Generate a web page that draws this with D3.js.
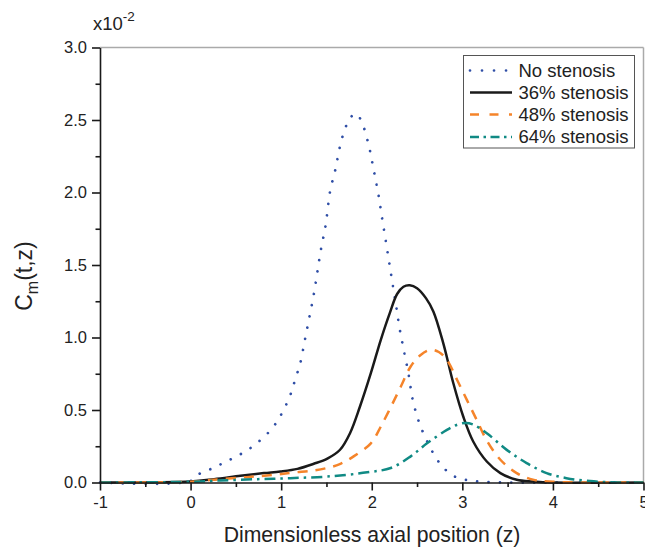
<!DOCTYPE html>
<html>
<head>
<meta charset="utf-8">
<script src="https://cdn.jsdelivr.net/npm/d3@7"></script>
<style>
  html, body { margin: 0; padding: 0; background: #fff; }
  svg { display: block; font-family: "Liberation Sans", Arial, sans-serif; }
</style>
</head>
<body>
<svg id="chart" width="645" height="552"></svg>
<script>
// ---- data (values in units of 10^-2) ----
const xTicks = [-1, 0, 1, 2, 3, 4, 5];
const yTicks = [0, 0.5, 1.0, 1.5, 2.0, 2.5, 3.0];
const seriesNames = ["No stenosis", "36% stenosis", "48% stenosis", "64% stenosis"];

const zNo = [-1, 0, 0.11, 0.24, 0.36, 0.49, 0.62, 0.74, 0.86, 0.96, 1.03, 1.09, 1.13, 1.17, 1.21, 1.26, 1.31, 1.36, 1.40, 1.44, 1.49, 1.54, 1.60, 1.65, 1.70, 1.75, 1.81, 1.85, 1.90, 1.97, 2.02, 2.07, 2.11, 2.15, 2.19, 2.23, 2.27, 2.31, 2.36, 2.41, 2.45, 2.52, 2.57, 2.63, 2.70, 2.79, 2.90, 3.03, 3.2, 3.5, 5];
const cNo = [0, 0.01, 0.065, 0.097, 0.134, 0.175, 0.22, 0.276, 0.345, 0.425, 0.506, 0.584, 0.66, 0.74, 0.82, 0.977, 1.136, 1.297, 1.453, 1.61, 1.77, 2.007, 2.163, 2.32, 2.43, 2.50, 2.543, 2.53, 2.47, 2.317, 2.16, 2.0, 1.84, 1.685, 1.527, 1.37, 1.214, 1.053, 0.894, 0.734, 0.577, 0.419, 0.34, 0.26, 0.179, 0.103, 0.046, 0.019, 0.006, 0, 0];

const z36 = [-1, 0, 0.26, 0.55, 0.81, 0.99, 1.18, 1.36, 1.51, 1.65, 1.76, 1.87, 1.99, 2.10, 2.20, 2.28, 2.35, 2.42, 2.50, 2.60, 2.68, 2.79, 2.90, 3.01, 3.12, 3.27, 3.42, 3.60, 3.78, 4.0, 5];
const c36 = [0, 0.007, 0.023, 0.046, 0.065, 0.076, 0.094, 0.129, 0.165, 0.226, 0.34, 0.524, 0.754, 0.984, 1.17, 1.30, 1.35, 1.36, 1.34, 1.27, 1.18, 0.96, 0.686, 0.455, 0.283, 0.145, 0.065, 0.019, 0.007, 0, 0];

const z48 = [-1, 0, 0.26, 0.62, 0.92, 1.14, 1.36, 1.54, 1.66, 1.80, 1.99, 2.10, 2.21, 2.32, 2.43, 2.54, 2.65, 2.74, 2.83, 2.94, 3.05, 3.16, 3.27, 3.42, 3.60, 3.78, 4.0, 5];
const c48 = [0, 0.005, 0.019, 0.037, 0.053, 0.069, 0.083, 0.105, 0.13, 0.18, 0.27, 0.386, 0.52, 0.66, 0.80, 0.88, 0.915, 0.90, 0.846, 0.71, 0.57, 0.43, 0.29, 0.157, 0.065, 0.02, 0.005, 0];

const z64 = [-1, 0, 0.33, 0.74, 1.10, 1.51, 1.95, 2.21, 2.43, 2.61, 2.83, 2.95, 3.03, 3.12, 3.27, 3.49, 3.71, 3.93, 4.15, 4.41, 4.7, 5];
const c64 = [0, 0.005, 0.014, 0.023, 0.03, 0.041, 0.07, 0.1, 0.18, 0.27, 0.363, 0.40, 0.41, 0.40, 0.34, 0.225, 0.134, 0.065, 0.03, 0.01, 0, 0];

// ---- layout ----
const svg = d3.select("#chart");
const padL = 100, padR = 643.5, padT = 47.5, padB = 482.5;
const x = d3.scaleLinear().domain([-1, 5]).range([padL, padR]);
const y = d3.scaleLinear().domain([0, 3]).range([padB, padT]);

const styles = [
  { color: "#2f4ea6", width: 2.7, dash: "0.01 11.4", cap: "round", legendDash: "0.01 12", legendCap: "round" },
  { color: "#1a1a1a", width: 2.5, dash: null, cap: "butt", legendDash: null, legendCap: "butt" },
  { color: "#f5842a", width: 2.5, dash: "10 8", cap: "butt", legendDash: "9 10.5", legendCap: "butt" },
  { color: "#108a84", width: 2.5, dash: "11 5 2.5 5", cap: "butt", legendDash: "9 4.5 2.5 4.5", legendCap: "butt" }
];
const data = [
  zNo.map((z, i) => [z, cNo[i]]),
  z36.map((z, i) => [z, c36[i]]),
  z48.map((z, i) => [z, c48[i]]),
  z64.map((z, i) => [z, c64[i]])
];

// frame (top & right)
svg.append("line").attr("x1", padL).attr("x2", padR).attr("y1", padT).attr("y2", padT)
  .attr("stroke", "#aaaaaa").attr("stroke-width", 1.5);
svg.append("line").attr("x1", padR).attr("x2", padR).attr("y1", padT).attr("y2", padB)
  .attr("stroke", "#aaaaaa").attr("stroke-width", 1.5);

// curves
const line = d3.line().x(d => x(d[0])).y(d => Math.min(y(d[1]), padB)).curve(d3.curveCatmullRom.alpha(0.5));
const plot = svg.append("g");
data.forEach((d, i) => {
  const s = styles[i];
  plot.append("path").datum(d).attr("d", line)
    .attr("fill", "none").attr("stroke", s.color).attr("stroke-width", s.width)
    .attr("stroke-linecap", s.cap).attr("stroke-linejoin", "round")
    .attr("stroke-dasharray", s.dash);
});

// axes
const xMinor = d3.range(-0.5, 5, 1);
const yMinor = d3.range(0.25, 3, 0.5);

svg.append("g").attr("transform", `translate(0,${padB})`)
  .call(d3.axisBottom(x).tickValues(xTicks).tickFormat(d => String(d)).tickSize(8).tickPadding(6).tickSizeOuter(0));
svg.append("g").attr("transform", `translate(0,${padB})`)
  .call(d3.axisBottom(x).tickValues(xMinor).tickFormat("").tickSize(4.5).tickSizeOuter(0))
  .call(g => g.select(".domain").remove());

svg.append("g").attr("transform", `translate(${padL},0)`)
  .call(d3.axisLeft(y).tickValues(yTicks).tickFormat(d => d.toFixed(1)).tickSize(8).tickPadding(5).tickSizeOuter(0));
svg.append("g").attr("transform", `translate(${padL},0)`)
  .call(d3.axisLeft(y).tickValues(yMinor).tickFormat("").tickSize(4.5).tickSizeOuter(0))
  .call(g => g.select(".domain").remove());

svg.selectAll(".domain").attr("stroke", "#1a1a1a").attr("stroke-width", 1.6);
svg.selectAll(".tick line").attr("stroke", "#1a1a1a").attr("stroke-width", 1.6);
svg.selectAll(".tick text").attr("font-size", 16.5).attr("fill", "#222")
  .attr("font-family", "'Liberation Sans', Arial, sans-serif");

// multiplier label
const mult = svg.append("text").attr("x", 93).attr("y", 30).attr("font-size", 18.5).attr("fill", "#222");
mult.append("tspan").text("x10");
mult.append("tspan").attr("dy", -9).attr("font-size", 13.5).text("-2");

// axis titles
svg.append("text").attr("x", 372).attr("y", 542).attr("text-anchor", "middle")
  .attr("font-size", 21.2).attr("fill", "#222").text("Dimensionless axial position (z)");

const yt = svg.append("text").attr("transform", "translate(32,276) rotate(-90)")
  .attr("text-anchor", "middle").attr("font-size", 23).attr("fill", "#222");
yt.append("tspan").text("C");
yt.append("tspan").attr("dy", 6).attr("font-size", 16).text("m");
yt.append("tspan").attr("dy", -6).text("(t,z)");

// legend
const lg = svg.append("g");
lg.append("rect").attr("x", 463.5).attr("y", 55.5).attr("width", 171).attr("height", 92.5)
  .attr("fill", "#fff").attr("stroke", "#555").attr("stroke-width", 1);
const legY = [70.5, 92.5, 114.5, 137];
seriesNames.forEach((name, i) => {
  const s = styles[i];
  lg.append("line").attr("x1", 470).attr("x2", 512).attr("y1", legY[i]).attr("y2", legY[i])
    .attr("stroke", s.color).attr("stroke-width", s.width)
    .attr("stroke-linecap", s.legendCap).attr("stroke-dasharray", s.legendDash);
  lg.append("text").attr("x", 518.5).attr("y", legY[i]).attr("dy", "0.35em")
    .attr("font-size", 18.5).attr("fill", "#222").text(name);
});
</script>
</body>
</html>
